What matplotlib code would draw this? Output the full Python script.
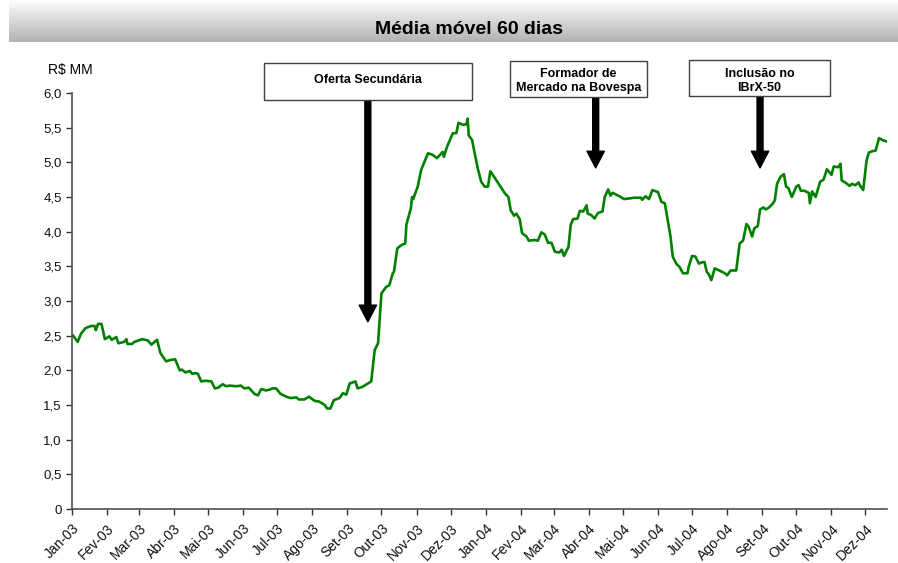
import numpy as np
import pandas as pd
import matplotlib
matplotlib.use('Agg')
import matplotlib.pyplot as plt
from matplotlib.patches import Rectangle

plt.rcParams['font.family'] = ['Liberation Sans', 'DejaVu Sans']

# 60-day moving average, R$ MM
dates = [
    "2003-01-02", "2003-01-06", "2003-01-09", "2003-01-13", "2003-01-18", "2003-01-21",
    "2003-01-22", "2003-01-24", "2003-01-27", "2003-01-30", "2003-02-03", "2003-02-05",
    "2003-02-09", "2003-02-11", "2003-02-16", "2003-02-18", "2003-02-19", "2003-02-23",
    "2003-02-25", "2003-03-04", "2003-03-09", "2003-03-12", "2003-03-17", "2003-03-20",
    "2003-03-25", "2003-03-29", "2003-04-02", "2003-04-06", "2003-04-08", "2003-04-11",
    "2003-04-15", "2003-04-17", "2003-04-20", "2003-04-22", "2003-04-25", "2003-04-29",
    "2003-05-04", "2003-05-07", "2003-05-10", "2003-05-14", "2003-05-17", "2003-05-20",
    "2003-05-26", "2003-05-30", "2003-06-02", "2003-06-06", "2003-06-11", "2003-06-14",
    "2003-06-17", "2003-06-21", "2003-06-24", "2003-06-27", "2003-06-30", "2003-07-04",
    "2003-07-09", "2003-07-13", "2003-07-18", "2003-07-20", "2003-07-25", "2003-07-29",
    "2003-08-03", "2003-08-07", "2003-08-12", "2003-08-14", "2003-08-17", "2003-08-20",
    "2003-08-25", "2003-08-28", "2003-08-31", "2003-09-03", "2003-09-08", "2003-09-10",
    "2003-09-14", "2003-09-19", "2003-09-22", "2003-09-25", "2003-09-28", "2003-09-29",
    "2003-10-01", "2003-10-05", "2003-10-08", "2003-10-11", "2003-10-12", "2003-10-15",
    "2003-10-19", "2003-10-22", "2003-10-23", "2003-10-27", "2003-10-28", "2003-10-29",
    "2003-11-02", "2003-11-05", "2003-11-08", "2003-11-11", "2003-11-15", "2003-11-19",
    "2003-11-24", "2003-11-25", "2003-11-28", "2003-12-03", "2003-12-06", "2003-12-08",
    "2003-12-12", "2003-12-15", "2003-12-16", "2003-12-17", "2003-12-20", "2003-12-22",
    "2003-12-25", "2003-12-28", "2003-12-31", "2004-01-03", "2004-01-05", "2004-01-06",
    "2004-01-10", "2004-01-14", "2004-01-18", "2004-01-21", "2004-01-23", "2004-01-26",
    "2004-01-28", "2004-01-31", "2004-02-02", "2004-02-06", "2004-02-08", "2004-02-13",
    "2004-02-16", "2004-02-19", "2004-02-22", "2004-02-25", "2004-02-28", "2004-03-02",
    "2004-03-06", "2004-03-08", "2004-03-10", "2004-03-14", "2004-03-16", "2004-03-18",
    "2004-03-22", "2004-03-24", "2004-03-27", "2004-03-30", "2004-03-31", "2004-04-03",
    "2004-04-06", "2004-04-09", "2004-04-13", "2004-04-15", "2004-04-18", "2004-04-20",
    "2004-04-22", "2004-04-28", "2004-05-02", "2004-05-07", "2004-05-11", "2004-05-17",
    "2004-05-18", "2004-05-21", "2004-05-24", "2004-05-27", "2004-06-01", "2004-06-04",
    "2004-06-07", "2004-06-09", "2004-06-12", "2004-06-14", "2004-06-17", "2004-06-20",
    "2004-06-23", "2004-06-27", "2004-06-28", "2004-07-01", "2004-07-04", "2004-07-07",
    "2004-07-10", "2004-07-12", "2004-07-14", "2004-07-16", "2004-07-18", "2004-07-21",
    "2004-07-25", "2004-07-30", "2004-08-01", "2004-08-04", "2004-08-09", "2004-08-12",
    "2004-08-15", "2004-08-18", "2004-08-20", "2004-08-23", "2004-08-25", "2004-08-28",
    "2004-08-30", "2004-09-02", "2004-09-04", "2004-09-07", "2004-09-10", "2004-09-12",
    "2004-09-14", "2004-09-17", "2004-09-20", "2004-09-22", "2004-09-24", "2004-09-27",
    "2004-10-01", "2004-10-03", "2004-10-05", "2004-10-08", "2004-10-12", "2004-10-13",
    "2004-10-15", "2004-10-18", "2004-10-22", "2004-10-25", "2004-10-28", "2004-11-01",
    "2004-11-03", "2004-11-07", "2004-11-09", "2004-11-10", "2004-11-14", "2004-11-17",
    "2004-11-19", "2004-11-22", "2004-11-25", "2004-11-26", "2004-11-29", "2004-12-02",
    "2004-12-04", "2004-12-07", "2004-12-10", "2004-12-13", "2004-12-16", "2004-12-20",
]
media = [
    2.50, 2.41, 2.53, 2.61, 2.64, 2.64, 2.58, 2.67, 2.67, 2.45, 2.49, 2.44,
    2.48, 2.39, 2.41, 2.45, 2.38, 2.38, 2.41, 2.45, 2.43, 2.37, 2.44, 2.25,
    2.13, 2.15, 2.16, 2.00, 2.01, 1.97, 1.99, 1.95, 1.96, 1.95, 1.84, 1.85,
    1.84, 1.74, 1.75, 1.80, 1.77, 1.78, 1.77, 1.78, 1.74, 1.75, 1.66, 1.64,
    1.73, 1.71, 1.72, 1.74, 1.74, 1.66, 1.62, 1.60, 1.61, 1.58, 1.58, 1.62,
    1.56, 1.55, 1.50, 1.45, 1.45, 1.57, 1.60, 1.67, 1.65, 1.81, 1.84, 1.74,
    1.76, 1.81, 1.84, 2.29, 2.39, 2.63, 3.11, 3.20, 3.23, 3.40, 3.42, 3.76,
    3.81, 3.83, 4.10, 4.34, 4.50, 4.47, 4.65, 4.89, 5.01, 5.13, 5.11, 5.06,
    5.15, 5.08, 5.23, 5.42, 5.42, 5.57, 5.54, 5.55, 5.63, 5.39, 5.32, 5.15,
    4.91, 4.72, 4.65, 4.65, 4.87, 4.85, 4.75, 4.65, 4.55, 4.50, 4.31, 4.23,
    4.26, 4.18, 3.98, 3.93, 3.87, 3.88, 3.87, 3.99, 3.96, 3.84, 3.84, 3.71,
    3.70, 3.74, 3.65, 3.78, 4.10, 4.18, 4.19, 4.30, 4.29, 4.38, 4.26, 4.24,
    4.19, 4.27, 4.29, 4.50, 4.61, 4.52, 4.56, 4.51, 4.47, 4.48, 4.49, 4.49,
    4.46, 4.51, 4.47, 4.60, 4.57, 4.43, 4.41, 4.22, 3.93, 3.64, 3.54, 3.49,
    3.40, 3.40, 3.49, 3.65, 3.64, 3.54, 3.56, 3.56, 3.42, 3.38, 3.30, 3.47,
    3.44, 3.40, 3.37, 3.44, 3.44, 3.83, 3.87, 4.11, 4.07, 3.93, 4.05, 4.08,
    4.32, 4.35, 4.32, 4.35, 4.40, 4.45, 4.69, 4.79, 4.83, 4.65, 4.63, 4.50,
    4.65, 4.67, 4.59, 4.59, 4.56, 4.41, 4.58, 4.50, 4.72, 4.75, 4.90, 4.82,
    4.94, 4.93, 4.98, 4.74, 4.70, 4.66, 4.69, 4.67, 4.71, 4.67, 4.60, 5.03,
    5.14, 5.16, 5.17, 5.35, 5.32, 5.30,
]

meses = ['Jan', 'Fev', 'Mar', 'Abr', 'Mai', 'Jun', 'Jul', 'Ago', 'Set', 'Out', 'Nov', 'Dez']
y_ticks = [0, 0.5, 1.0, 1.5, 2.0, 2.5, 3.0, 3.5, 4.0, 4.5, 5.0, 5.5, 6.0]

# events: (label, date, value the arrow points at)
eventos = [
    ("Oferta Secundária", "2003-09-19", 2.70),
    ("Formador de\nMercado na Bovespa", "2004-04-07", 4.92),
    ("Inclusão no\nIBrX-50", "2004-08-30", 4.92),
]

W, H = 898, 563
fig = plt.figure(figsize=(W / 100, H / 100), dpi=100)


def fx(px):
    return px / W


def fy(py):
    return 1 - py / H


# grey gradient banner with the subtitle
band = fig.add_axes([fx(9), fy(42), fx(898 - 9), 42 / H], zorder=0)
grad = np.linspace(0.99, 0.70, 64).reshape(-1, 1)
band.imshow(grad, aspect='auto', cmap='gray', vmin=0, vmax=1, extent=[0, 1, 0, 1])
band.set_axis_off()
fig.text(fx(469), fy(30), "Média móvel 60 dias", ha='center', va='center',
         fontsize=14, fontweight='bold', color='black')

ax = fig.add_axes([fx(72), fy(509), fx(887 - 72), (509 - 93) / H])
x = pd.to_datetime(dates)
ax.plot(x, media, color='#008000', lw=1.9, solid_joinstyle='round')

ax.set_ylim(0, 6)
ax.set_xlim(pd.Timestamp("2003-01-01"), pd.Timestamp("2004-12-20"))
ax.set_yticks(y_ticks)
ax.set_yticklabels(['0' if v == 0 else f"{v:.1f}".replace('.', ',') for v in y_ticks])

month_ticks = pd.date_range("2003-01-01", "2004-12-01", freq='MS')
ax.set_xticks(month_ticks)
ax.set_xticklabels([f"{meses[d.month - 1]}-{d.strftime('%y')}" for d in month_ticks],
                   rotation=45, ha='right', rotation_mode='anchor')

for s in ['top', 'right']:
    ax.spines[s].set_visible(False)
for s in ['left', 'bottom']:
    ax.spines[s].set_color('#505050')
    ax.spines[s].set_linewidth(1.2)
ax.tick_params(axis='both', direction='out', length=4, width=1, color='#303030',
               labelsize=9.5, labelcolor='#111111')
ax.tick_params(axis='x', pad=5, labelsize=10)

fig.text(fx(48), fy(70), "R$ MM", ha='left', va='center', fontsize=10)

# annotation boxes (pixel layout) and arrows
boxes = [(264, 63, 472, 100), (510, 61, 647, 97), (689, 60, 830, 96)]
text_y = [80, 81, 81]
for (label, d, v), (x0, y0, x1, y1), ty in zip(eventos, boxes, text_y):
    fig.add_artist(Rectangle((fx(x0), fy(y1)), fx(x1 - x0), (y1 - y0) / H,
                             transform=fig.transFigure, facecolor='white',
                             edgecolor='#404040', lw=1.0, zorder=3))
    fig.text(fx((x0 + x1) / 2), fy(ty), label, ha='center', va='center',
             fontsize=9, fontweight='bold', linespacing=1.25, zorder=4)
    start_v = 6 + (93 - y1) / 69.33
    ax.annotate('', xy=(pd.Timestamp(d), v), xytext=(pd.Timestamp(d), start_v),
                annotation_clip=False,
                arrowprops=dict(facecolor='black', edgecolor='black', width=4.3,
                                headwidth=12.5, headlength=12, shrink=0))

fig.savefig("out.png", dpi=100)
